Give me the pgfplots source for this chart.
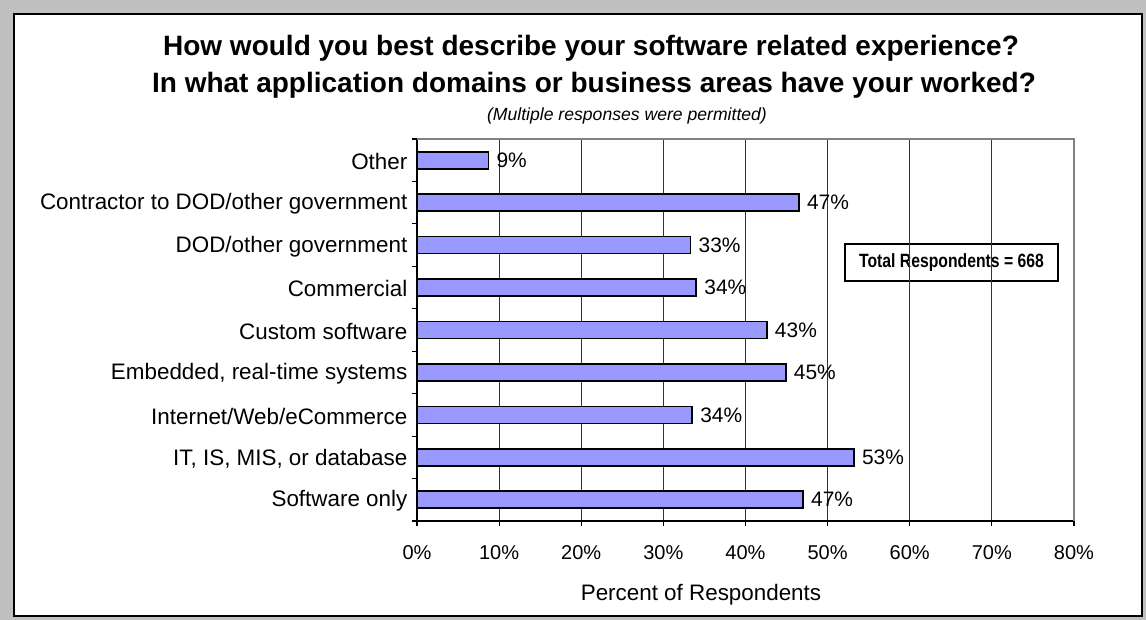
\documentclass[border=0pt]{standalone}
\usepackage{fontspec}
\setmainfont{Liberation Sans}
\newfontfamily\narrowfont[FakeStretch=0.82]{Liberation Sans}
\usepackage{pgfplots}
\pgfplotsset{compat=1.18}
\definecolor{barblue}{HTML}{9999FF}
\definecolor{framegray}{HTML}{C0C0C0}
\begin{document}
\begin{tikzpicture}
\begin{scope}[x=0.75pt,y=-0.75pt]
\fill[framegray] (0,0) rectangle (1146,620);
\draw[fill=white, line width=1.2pt] (14,14) rectangle (1142,616);
\coordinate (axsw) at (417,521);
\node[anchor=base, font=\bfseries\fontsize{21}{25}\selectfont] at (591,56) {How would you best describe your software related experience?};
\node[anchor=base, font=\bfseries\fontsize{21}{25}\selectfont] at (594,93) {In what application domains or business areas have your worked?};
\node[anchor=base, font=\itshape\fontsize{13.2}{16}\selectfont] at (627,121) {(Multiple responses were permitted)};
\node[anchor=base, font=\fontsize{16.8}{20}\selectfont] at (701,600) {Percent of Respondents};
\node[draw=black, line width=0.9pt, fill=white, minimum width=159.75pt, minimum height=27.75pt, inner sep=0pt, font=\narrowfont\bfseries\fontsize{14.4}{17}\selectfont] at (951.5,262.5) {Total Respondents = 668};
\end{scope}
\begin{axis}[
  at={(axsw)}, anchor=south west,
  scale only axis, width=492.75pt, height=286.5pt,
  xbar, bar width=12.75pt,
  xmin=0, xmax=80, ymin=-0.5, ymax=8.5,
  xtick={0,10,...,80},
  xticklabels={0\%,10\%,20\%,30\%,40\%,50\%,60\%,70\%,80\%},
  ytick={0,...,8},
  yticklabels={Software only,{IT, IS, MIS, or database},Internet/Web/eCommerce,{Embedded, real-time systems},Custom software,Commercial,DOD/other government,Contractor to DOD/other government,Other},
  minor ytick={-0.5,0.5,...,8.5},
  every major y tick/.style={draw=none},
  tick align=outside, major tick length=3.75pt, minor tick length=3.75pt,
  tick style={black, line width=0.9pt},
  xmajorgrids, grid style={black!80, line width=0.75pt},
  axis x line*=bottom, axis y line*=left,
  axis line style={-, black, line width=1.1pt},
  xticklabel style={font=\fontsize{15}{18}\selectfont, yshift=-11pt},
  yticklabel style={font=\fontsize{16.8}{20}\selectfont, yshift=-1pt},
  point meta=explicit symbolic,
  nodes near coords,
  every node near coord/.append style={font=\fontsize{15.7}{19}\selectfont, anchor=west, inner sep=5.5pt},
  clip=false,
]
\addplot[fill=barblue, draw=black, line width=1.2pt] coordinates {
 (47.0,0) [47\%]
 (53.2,1) [53\%]
 (33.5,2) [34\%]
 (44.9,3) [45\%]
 (42.6,4) [43\%]
 (34.0,5) [34\%]
 (33.3,6) [33\%]
 (46.5,7) [47\%]
 (8.7,8) [9\%]
};
\draw[gray, line width=1pt] (rel axis cs:0,1) -- (rel axis cs:1,1) -- (rel axis cs:1,0);
\end{axis}
\end{tikzpicture}
\end{document}
